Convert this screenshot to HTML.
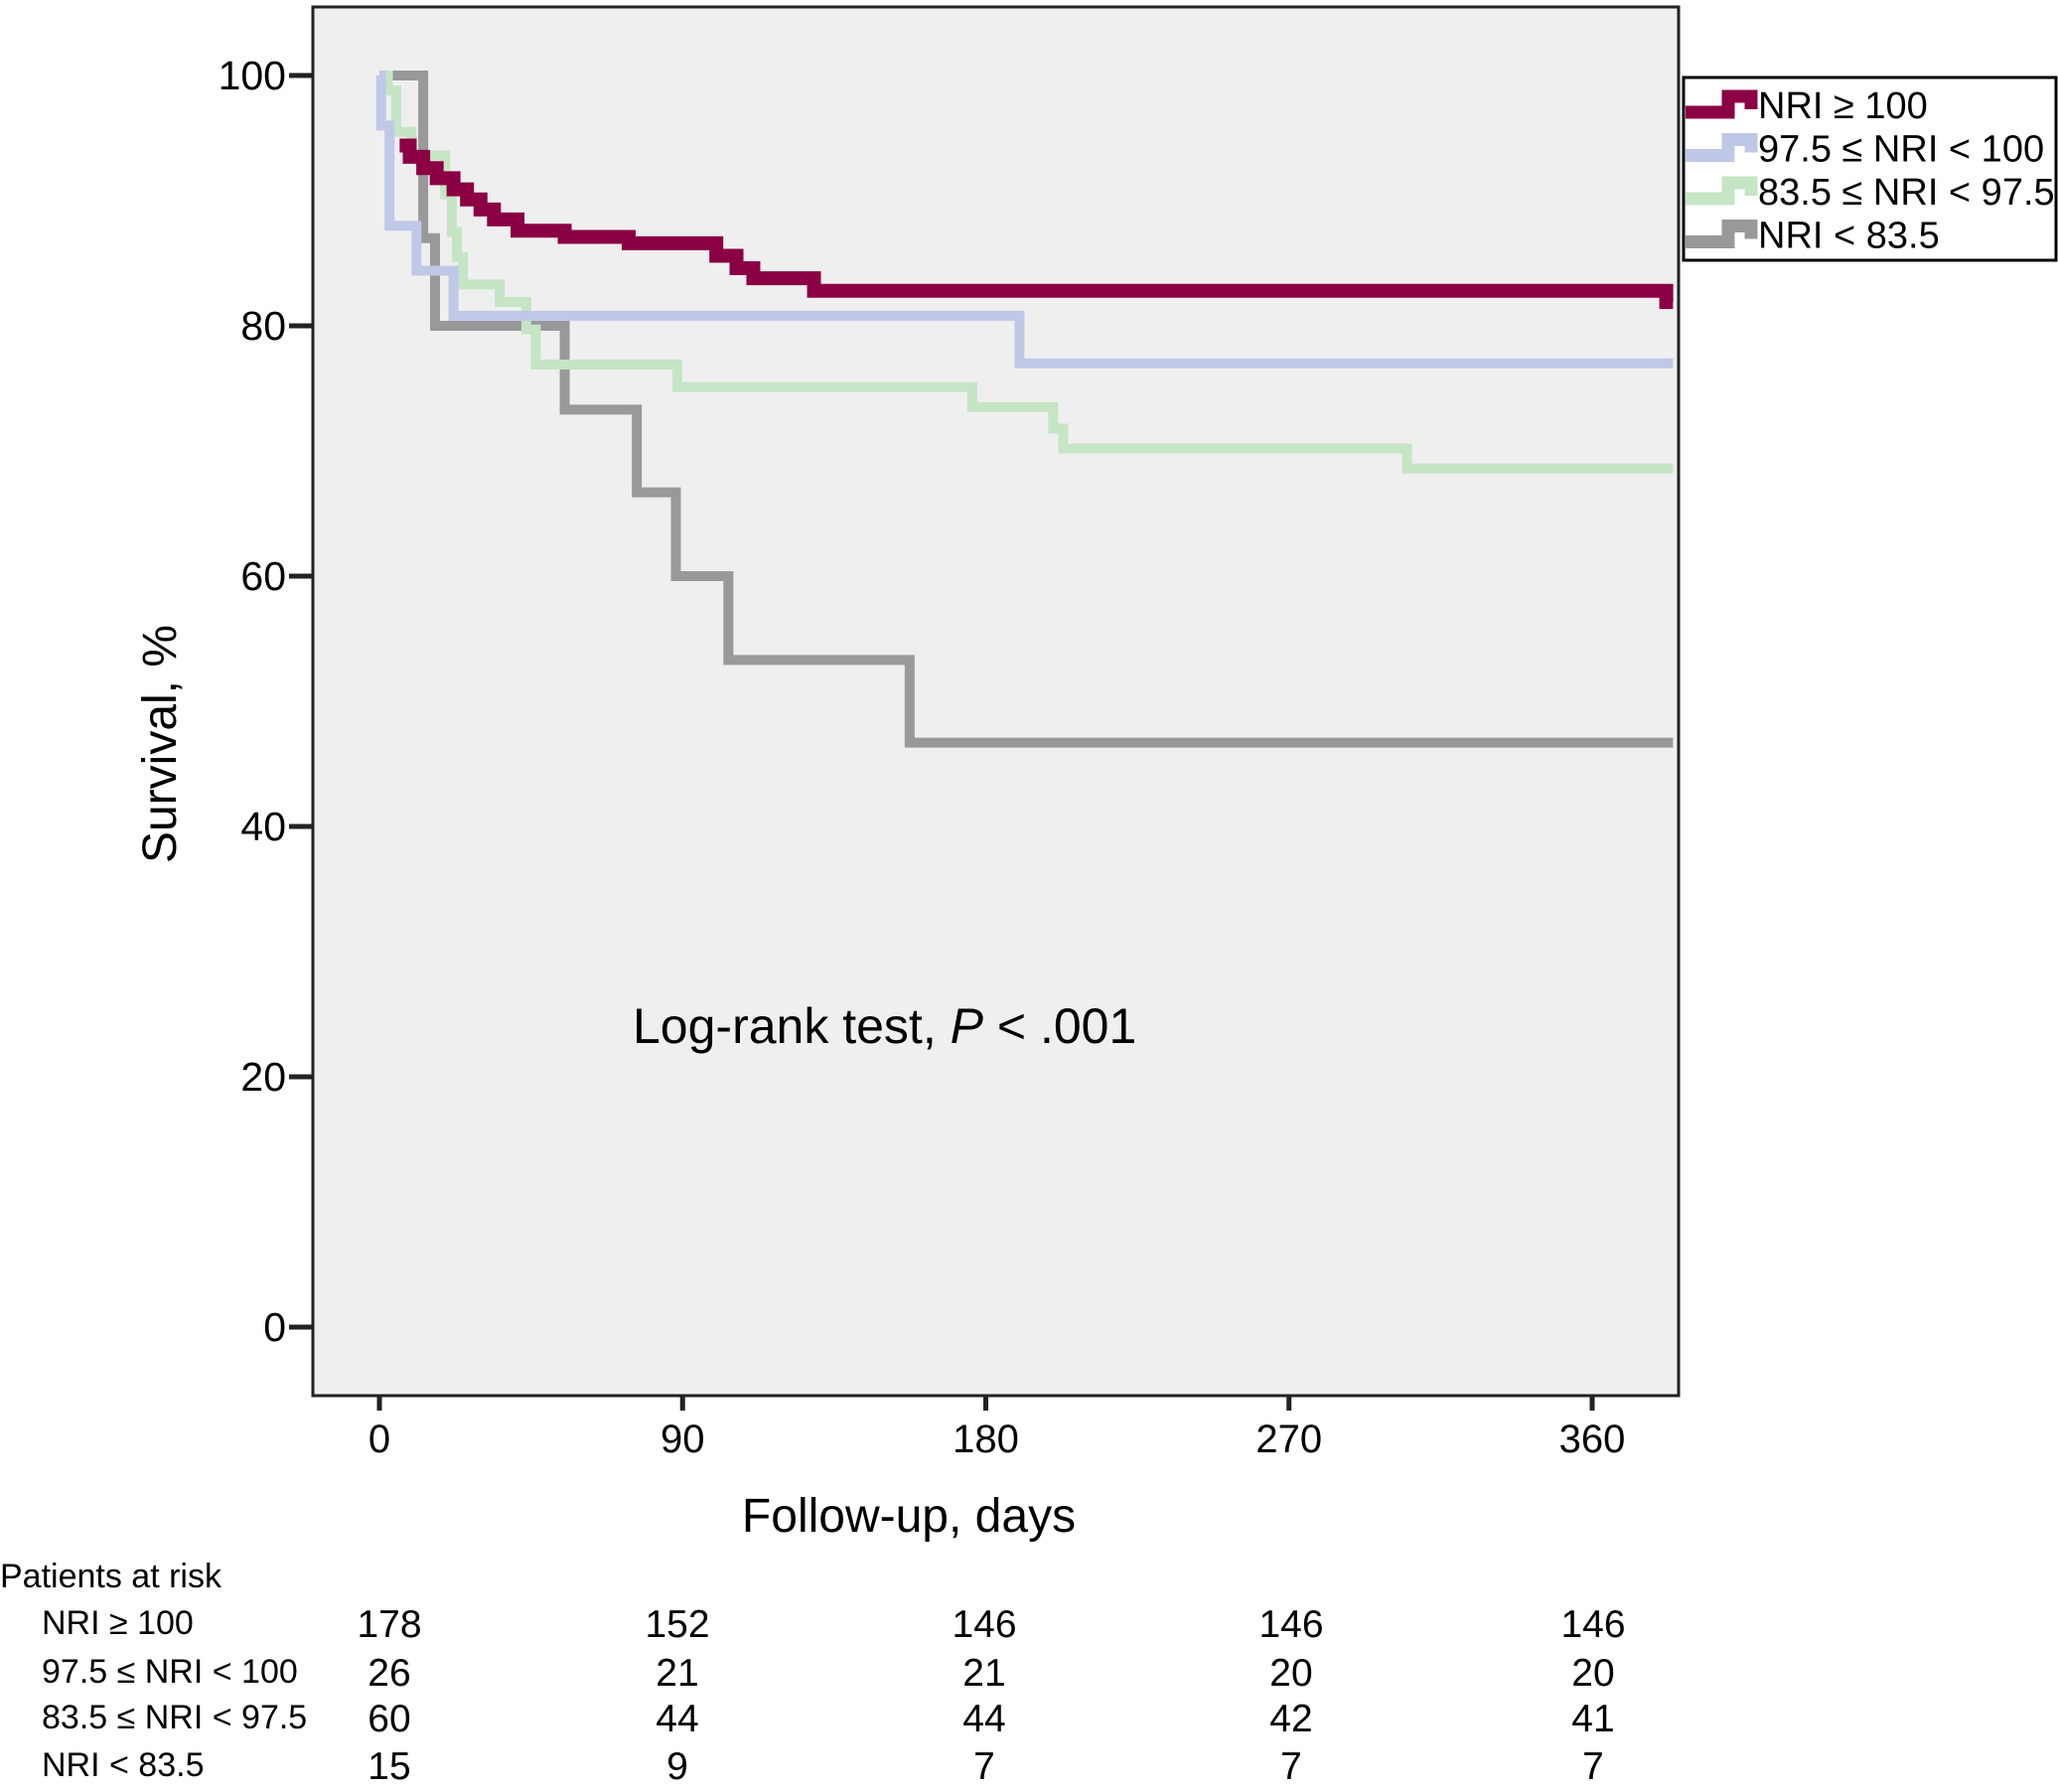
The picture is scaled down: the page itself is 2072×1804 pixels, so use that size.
<!DOCTYPE html>
<html><head><meta charset="utf-8"><style>
html,body{margin:0;padding:0;background:#fff;}
svg{display:block;font-family:"Liberation Sans",Arial,sans-serif;}
</style></head><body>
<svg id="chart" width="2072" height="1804" viewBox="0 0 2072 1804" xmlns="http://www.w3.org/2000/svg">
<rect x="315" y="7" width="1375" height="1398" fill="#efefef" stroke="#222" stroke-width="3"/>
<g id="yaxis"></g>
<g id="xaxis"></g>
<g id="series"></g>
<text transform="translate(177,749) rotate(-90)" text-anchor="middle" font-size="48">Survival, %</text>
<text x="915" y="1542" text-anchor="middle" font-size="48">Follow-up, days</text>
<text x="637" y="1050" font-size="50">Log-rank test, <tspan font-style="italic">P</tspan> &lt; .001</text>
<g>
<rect x="1695" y="78" width="375" height="184" fill="#fff" stroke="#000" stroke-width="3"/>
<g id="legend-items"></g>
</g>
<g id="risk">
<text x="0" y="1598" font-size="34">Patients at risk</text>
</g>
</svg>
<script>
const yTicks = [0,20,40,60,80,100];
const xTicks = [0,90,180,270,360];
const seriesNames = ["NRI ≥ 100","97.5 ≤ NRI < 100","83.5 ≤ NRI < 97.5","NRI < 83.5"];
const redTimes = [6,9,13,17,22,26,30,34,41,55,74,100,106,111,129,382];
const redValues = [94.4,93.5,92.6,91.8,90.9,90.1,89.3,88.5,87.6,87.1,86.6,85.6,84.6,83.8,82.8,81.9];
const blueTimes = [0,0.5,3,11,22,190];
const blueValues = [100,96,88,84.4,80.8,77];
const greenTimes = [0,2.5,5,9.5,19.5,21.5,23,24.8,35.7,43.6,46.4,88.4,176,200,203,305];
const greenValues = [100,98.8,95.5,93.6,90.5,87.5,85.5,83.3,81.9,79.7,76.9,75.1,73.5,71.8,70.2,68.6];
const greyTimes = [0,13,16.5,55,76.4,88,103.6,157.4];
const greyValues = [100,87,80,73.3,66.7,60,53.3,46.7];
const endDay = 384;
const riskDays = [0,90,180,270,360];
const riskRed = [178,152,146,146,146];
const riskBlue = [26,21,21,20,20];
const riskGreen = [60,44,44,42,41];
const riskGrey = [15,9,7,7,7];

const NS="http://www.w3.org/2000/svg";
const xs = d => 382 + d*(1603-382)/360;
const ys = v => 1336 - v*(1336-76)/100;
function mk(tag, attrs, parent){const e=document.createElementNS(NS,tag);for(const k in attrs)e.setAttribute(k,attrs[k]);parent.appendChild(e);return e;}

const ya=document.getElementById('yaxis');
yTicks.forEach(v=>{
  const l=mk('line',{x1:291,x2:315,y1:ys(v),y2:ys(v),stroke:'#222','stroke-width':5},ya);
  
  
  const t=mk('text',{x:288,y:ys(v)+14,'text-anchor':'end','font-size':41},ya);
  t.textContent=v;
  
  
});
const xa=document.getElementById('xaxis');
xTicks.forEach(d=>{
  const l=mk('line',{x1:xs(d),x2:xs(d),y1:1405,y2:1420,stroke:'#222','stroke-width':5},xa);
  
  
  const t=mk('text',{x:xs(d),y:1462,'text-anchor':'middle','font-size':40},xa);
  t.textContent=d;
  
  
});

function stepPath(ts,vs){
  let d='M'+xs(ts[0])+','+ys(vs[0]);
  for(let i=1;i<ts.length;i++){d+=' H'+xs(ts[i])+' V'+ys(vs[i]);}
  d+=' H'+xs(endDay);
  return d;
}
const sg=document.getElementById('series');
const defs=[
 {t:greyTimes,v:greyValues,c:'#999999',w:10,n:'curve-nri-below-83-5'},
 {t:greenTimes,v:greenValues,c:'#c5e5c5',w:10,n:'curve-nri-83-5-to-97-5'},
 {t:blueTimes,v:blueValues,c:'#c0c8e8',w:10,n:'curve-nri-97-5-to-100'},
 {t:redTimes,v:redValues,c:'#8b0044',w:14,n:'curve-nri-100-plus'}
];
defs.forEach(s=>{
  const p=mk('path',{d:stepPath(s.t,s.v),fill:'none',stroke:s.c,'stroke-width':s.w},sg);
  
  
});

const legColors=['#8b0044','#c0c8e8','#c5e5c5','#999999'];
const li=document.getElementById('legend-items');
seriesNames.forEach((n,i)=>{
  const cy=105+i*43.5;
  const g=mk('g',{},li);
  
  
  mk('path',{d:`M1697,${cy+8} H1740 V${cy-8} H1763 V${cy+5}`,fill:'none',stroke:legColors[i],'stroke-width':13},g);
  const t=mk('text',{x:1770,y:cy+14,'font-size':38},g);
  t.textContent=n;
});

const rk=document.getElementById('risk');
const rows=[riskRed,riskBlue,riskGreen,riskGrey];
const rowY=[1648,1697,1743,1791];
const riskX=[392,682,991,1300,1604];
seriesNames.forEach((n,i)=>{
  const t=mk('text',{x:42,y:rowY[i]-3,'font-size':34},rk);
  t.textContent=n;
  
  
  rows[i].forEach((val,j)=>{
    const c=mk('text',{x:riskX[j],y:rowY[i],'text-anchor':'middle','font-size':39},rk);
    c.textContent=val;
    
    
  });
});
</script>
</body></html>
